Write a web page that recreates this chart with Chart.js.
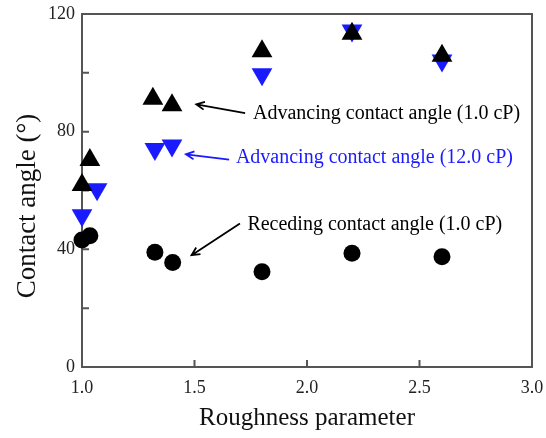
<!DOCTYPE html>
<html>
<head>
<meta charset="utf-8">
<script src="https://cdn.jsdelivr.net/npm/chart.js@4.4.1/dist/chart.umd.min.js"></script>
<style>
  html, body { margin: 0; padding: 0; background: #fff; }
  #wrap { width: 546px; height: 438px; }
</style>
</head>
<body>
<div id="wrap"><canvas id="chart" width="546" height="438"></canvas></div>
<script>
// ── Data ──────────────────────────────────────────────────────
const adv1X    = [1.0, 1.035, 1.315, 1.40, 1.80, 2.20, 2.60];
const adv1Y    = [61.9, 70.4, 91.2, 89.0, 107.3, 113.3, 105.8];
const adv12X   = [1.0, 1.067, 1.324, 1.40, 1.80, 2.20, 2.60];
const adv12Y   = [51.6, 60.4, 74.1, 75.3, 99.5, 114.4, 104.2];
const recX     = [1.0, 1.035, 1.324, 1.403, 1.80, 2.20, 2.60];
const recY     = [43.2, 44.6, 39.0, 35.5, 32.4, 38.7, 37.5];

const xTicks      = [1.0, 1.5, 2.0, 2.5, 3.0];
const yTicks      = [0, 40, 80, 120];
const yMinorTicks = [20, 60, 100];

// annotation labels: text, text anchor, arrow tail -> head (data units)
const notes = [
    { text: 'Advancing contact angle (1.0 cP)',  color: '#000', at: [1.76, 86.1],  from: [1.725, 86.3], to: [1.508, 89.3] },
    { text: 'Advancing contact angle (12.0 cP)', color: '#1a1aff', at: [1.684, 71.1], from: [1.654, 70.5], to: [1.462, 72.3] },
    { text: 'Receding contact angle (1.0 cP)',   color: '#000', at: [1.735, 48.4], from: [1.702, 48.8], to: [1.487, 38.0] },
];

const SERIF = '"Liberation Serif", "Times New Roman", serif';
const AXIS  = '#555';

const zip = (xs, ys) => xs.map((x, i) => ({ x, y: ys[i] }));

// ── Frame, inward ticks, annotations ──────────────────────────
const decor = {
    id: 'decor',
    beforeDatasetsDraw(c) {
        const { ctx, chartArea: a, scales: { x, y } } = c;
        ctx.save();
        ctx.strokeStyle = AXIS;
        ctx.lineWidth = 2;
        ctx.strokeRect(a.left, a.top, a.right - a.left, a.bottom - a.top);
        ctx.beginPath();
        xTicks.forEach(v => {
            const px = x.getPixelForValue(v);
            ctx.moveTo(px, a.bottom);
            ctx.lineTo(px, a.bottom - 7);
        });
        [...yTicks, ...yMinorTicks].forEach(v => {
            const py = y.getPixelForValue(v);
            ctx.moveTo(a.left, py);
            ctx.lineTo(a.left + 7, py);
        });
        ctx.stroke();
        ctx.restore();
    },
    afterDraw(c) {
        const { ctx, scales: { x, y } } = c;
        ctx.save();
        // y title
        ctx.translate(28, 206);
        ctx.rotate(-Math.PI / 2);
        ctx.fillStyle = '#111';
        ctx.font = `27px ${SERIF}`;
        ctx.textAlign = 'center';
        ctx.textBaseline = 'middle';
        ctx.fillText('Contact angle (\u00b0)', 0, 0);
        ctx.restore();

        ctx.save();
        ctx.font = `20px ${SERIF}`;
        ctx.textBaseline = 'middle';
        ctx.lineWidth = 1.8;
        notes.forEach(n => {
            ctx.fillStyle = n.color;
            ctx.strokeStyle = n.color;
            ctx.fillText(n.text, x.getPixelForValue(n.at[0]), y.getPixelForValue(n.at[1]));
            const x0 = x.getPixelForValue(n.from[0]), y0 = y.getPixelForValue(n.from[1]);
            const x1 = x.getPixelForValue(n.to[0]),   y1 = y.getPixelForValue(n.to[1]);
            const ang = Math.atan2(y1 - y0, x1 - x0);
            ctx.beginPath();
            ctx.moveTo(x0, y0);
            ctx.lineTo(x1, y1);
            ctx.moveTo(x1 - 9 * Math.cos(ang - 0.45), y1 - 9 * Math.sin(ang - 0.45));
            ctx.lineTo(x1, y1);
            ctx.lineTo(x1 - 9 * Math.cos(ang + 0.45), y1 - 9 * Math.sin(ang + 0.45));
            ctx.stroke();
        });
        ctx.restore();
    }
};

// ── Chart ─────────────────────────────────────────────────────
new Chart(document.getElementById('chart'), {
    type: 'scatter',
    data: {
        datasets: [
            {
                label: 'Receding contact angle (1.0 cP)',
                data: zip(recX, recY),
                pointStyle: 'circle',
                pointRadius: 8.5,
                backgroundColor: '#000',
                borderColor: '#000',
                borderWidth: 0,
                clip: false,
            },
            {
                label: 'Advancing contact angle (1.0 cP)',
                data: zip(adv1X, adv1Y),
                pointStyle: 'triangle',
                pointRadius: 12,
                backgroundColor: '#000',
                borderColor: '#000',
                borderWidth: 0,
                clip: false,
            },
            {
                label: 'Advancing contact angle (12.0 cP)',
                data: zip(adv12X, adv12Y),
                pointStyle: 'triangle',
                pointRotation: 180,
                pointRadius: 12,
                backgroundColor: '#1a1aff',
                borderColor: '#1a1aff',
                borderWidth: 0,
                clip: false,
            },
        ]
    },
    options: {
        responsive: false,
        animation: false,
        events: [],
        layout: { padding: { left: 0, right: 14, top: 14, bottom: 0 } },
        plugins: {
            legend: { display: false },
            tooltip: { enabled: false },
        },
        scales: {
            x: {
                type: 'linear',
                min: 1.0,
                max: 3.0,
                afterFit: s => { s.height = 71; s.paddingLeft = 0; s.paddingRight = 0; },
                afterBuildTicks: s => { s.ticks = xTicks.map(v => ({ value: v })); },
                grid: { display: false, drawTicks: false },
                border: { display: false },
                ticks: {
                    color: '#222',
                    padding: 10,
                    font: { family: SERIF, size: 18 },
                    maxRotation: 0,
                    callback: v => v.toFixed(1),
                },
                title: {
                    display: true,
                    text: 'Roughness parameter',
                    color: '#111',
                    font: { family: SERIF, size: 25 },
                    padding: { top: 0, bottom: 5 },
                },
            },
            y: {
                type: 'linear',
                min: 0,
                max: 120,
                afterFit: s => { s.width = 82; s.paddingTop = 0; s.paddingBottom = 0; },
                afterBuildTicks: s => { s.ticks = yTicks.map(v => ({ value: v })); },
                grid: { display: false, drawTicks: false },
                border: { display: false },
                ticks: {
                    color: '#222',
                    padding: 7,
                    font: { family: SERIF, size: 18 },
                },
            },
        },
    },
    plugins: [decor],
});
</script>
</body>
</html>
